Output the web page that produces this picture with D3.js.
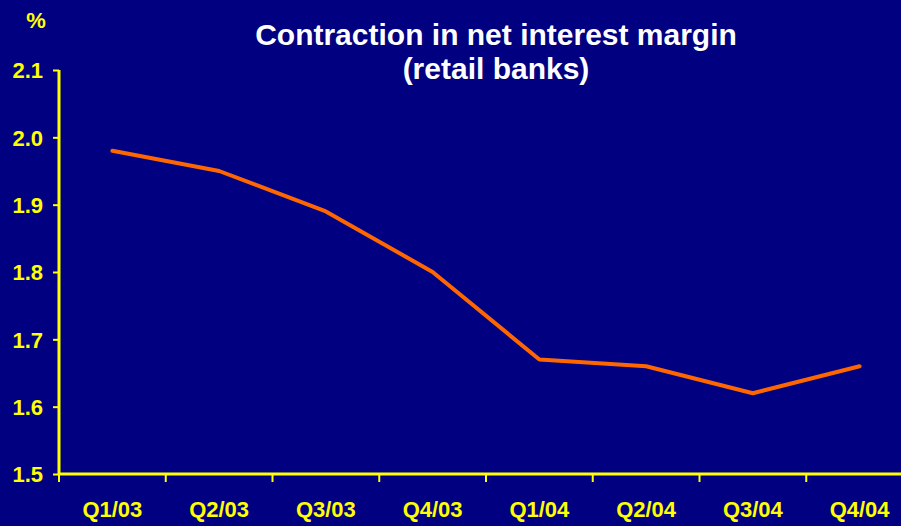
<!DOCTYPE html>
<html>
<head>
<meta charset="utf-8">
<script src="https://cdnjs.cloudflare.com/ajax/libs/d3/7.8.5/d3.min.js"></script>
<style>
  body { margin: 0; background: #000080; overflow: hidden; }
  svg { display: block; }
  text { font-family: "Liberation Sans", Arial, sans-serif; font-weight: bold; }
</style>
</head>
<body>
<svg id="chart"></svg>
<script>
// data
var quarters = ["Q1/03", "Q2/03", "Q3/03", "Q4/03", "Q1/04", "Q2/04", "Q3/04", "Q4/04"];
var margins = [1.98, 1.95, 1.89, 1.80, 1.67, 1.66, 1.62, 1.66];
var yTicks = [1.5, 1.6, 1.7, 1.8, 1.9, 2.0, 2.1];
var titleLines = ["Contraction in net interest margin", "(retail banks)"];

const chartW = 901,
    chartH = 526,
    marginLeft = 59,
    marginTop = 70,
    plotW = 854,
    plotH = 404;

var svg = d3.select("#chart")
    .attr("width", chartW)
    .attr("height", chartH);

svg.append("rect")
    .attr("width", chartW)
    .attr("height", chartH)
    .attr("fill", "#000080");

var chart = svg.append("g")
    .attr("transform", "translate(" + marginLeft + "," + marginTop + ")");

var xScale = d3.scaleBand().domain(quarters).range([0, plotW]);
var yScale = d3.scaleLinear().domain([1.5, 2.1]).range([plotH, 0]);

// y axis
var yAxis = d3.axisLeft(yScale)
    .tickValues(yTicks)
    .tickSize(6)
    .tickPadding(10)
    .tickFormat(d3.format(".1f"));
var gy = chart.append("g").call(yAxis);
gy.select(".domain").remove();
gy.append("line")
    .attr("y1", 0).attr("y2", plotH)
    .attr("stroke", "#ffff00").attr("stroke-width", 3);
gy.selectAll(".tick line").attr("stroke", "#ffff00").attr("stroke-width", 2);
gy.selectAll(".tick text")
    .attr("fill", "#ffff00")
    .attr("dy", "0.36em")
    .style("font-family", "'Liberation Sans', Arial, sans-serif")
    .style("font-size", "22px");

// x axis (ticks between categories)
var gx = chart.append("g")
    .attr("transform", "translate(0," + plotH + ")");
gx.append("line")
    .attr("x1", 0).attr("x2", plotW)
    .attr("stroke", "#ffff00").attr("stroke-width", 3);
gx.selectAll(".xtick")
    .data(quarters)
    .enter()
    .append("line")
    .attr("x1", function(d) {return xScale(d);})
    .attr("x2", function(d) {return xScale(d);})
    .attr("y1", 0).attr("y2", 8)
    .attr("stroke", "#ffff00").attr("stroke-width", 2);
gx.selectAll(".xlabel")
    .data(quarters)
    .enter()
    .append("text")
    .attr("x", function(d) {return xScale(d) + xScale.bandwidth() / 2;})
    .attr("y", 43)
    .attr("text-anchor", "middle")
    .attr("fill", "#ffff00")
    .style("font-size", "22px")
    .text(function(d) {return d;});

// the line
var valueline = d3.line()
    .x(function(d, i) {return xScale(quarters[i]) + xScale.bandwidth() / 2;})
    .y(function(d) {return yScale(d);});

chart.append("path")
    .datum(margins)
    .attr("d", valueline)
    .attr("fill", "none")
    .attr("stroke", "#ff6600")
    .attr("stroke-width", 4)
    .attr("stroke-linejoin", "round")
    .attr("stroke-linecap", "round");

// unit label and title
svg.append("text")
    .attr("x", 36).attr("y", 28)
    .attr("text-anchor", "middle")
    .attr("fill", "#ffff00")
    .style("font-size", "22px")
    .text("%");

svg.selectAll(".title")
    .data(titleLines)
    .enter()
    .append("text")
    .attr("x", 496)
    .attr("y", function(d, i) {return 45 + i * 34;})
    .attr("text-anchor", "middle")
    .attr("fill", "#ffffff")
    .style("font-size", "30px")
    .text(function(d) {return d;});
</script>
</body>
</html>
